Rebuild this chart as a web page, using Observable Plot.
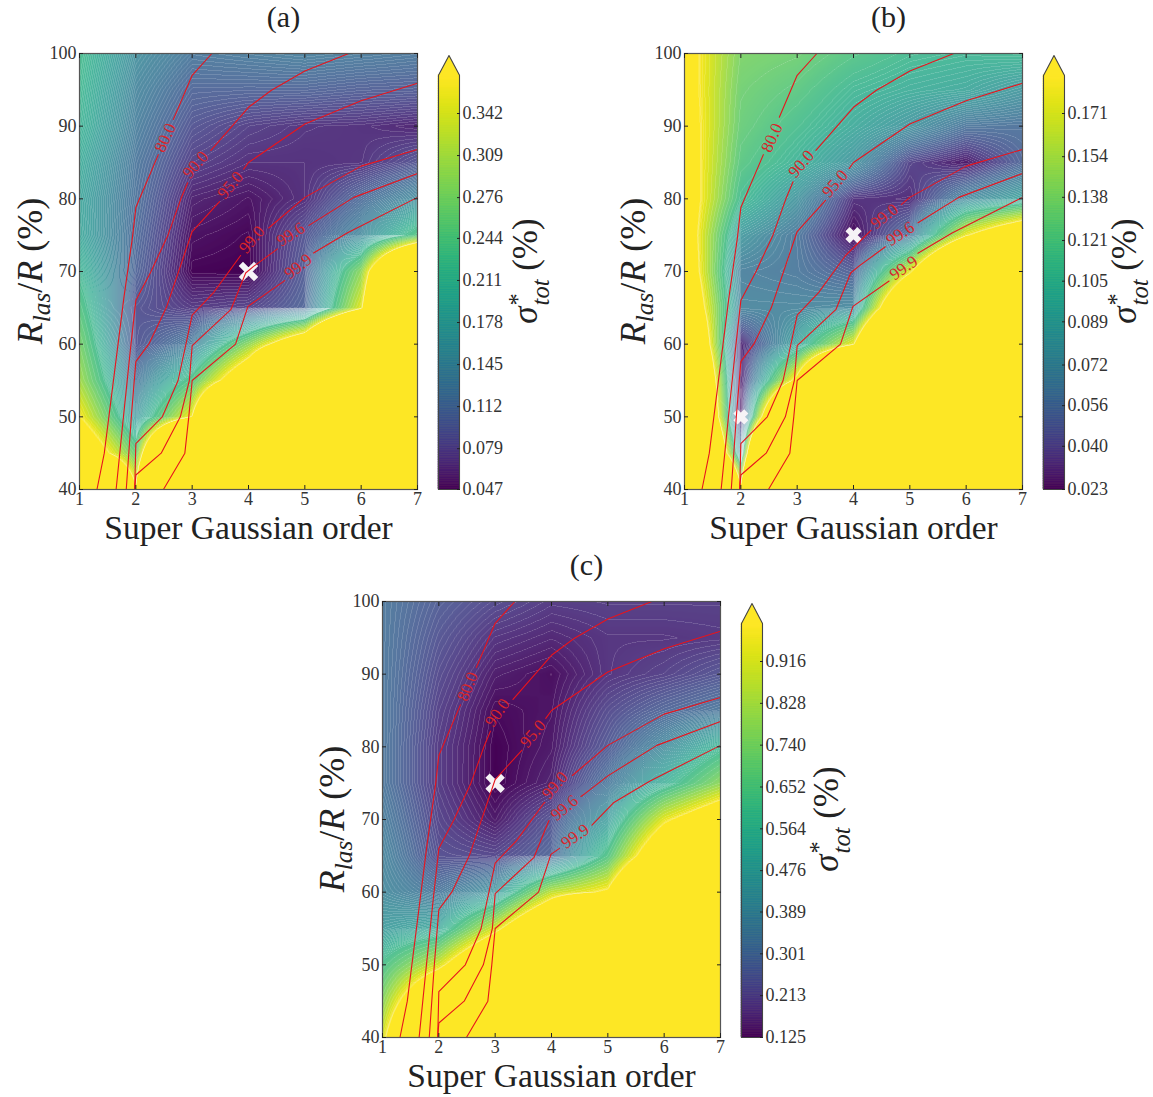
<!DOCTYPE html>
<html><head><meta charset="utf-8">
<script src="https://cdn.jsdelivr.net/npm/d3@7"></script>
<script src="https://cdn.jsdelivr.net/npm/@observablehq/plot@0.6"></script>
<style>
html,body{margin:0;padding:0;background:#fff}
#page{position:relative;width:1153px;height:1097px;overflow:hidden;font-family:"Liberation Serif",serif;color:#222}
#page>svg{position:absolute}
.rot{position:absolute;transform:translate(-50%,-50%) rotate(-90deg);white-space:nowrap;line-height:1}
.rot i{font-style:italic}
.rot sub{font-size:.7em;vertical-align:-.3em;line-height:0}
.ss{display:inline-flex;flex-direction:column;vertical-align:middle;font-size:.7em;line-height:.95;margin-left:1px;text-align:left}
</style></head><body><div id="page"></div>
<script>
const xs = [1,2,3,4,5,6,7];
const ys = [100,95,90,85,80,75,70,65,60,55,50,45,40];

const sigmaA = [
 [.230,.156,.125,.130,.135,.130,.125],
 [.222,.143,.106,.105,.105,.100,.098],
 [.215,.133,.091,.077,.070,.068,.062],
 [.200,.123,.077,.067,.067,.069,.091],
 [.190,.118,.061,.054,.067,.112,.156],
 [.194,.112,.053,.049,.091,.149,.248],
 [.218,.106,.048,.047,.098,.295,.834],
 [.248,.091,.073,.079,.106,.355,1.08],
 [.280,.091,.133,.295,.489,1.08,2.06],
 [.310,.123,.248,.489,1.08,1.54,2.06],
 [.372,.167,.372,1.08,1.54,2.06,2.06],
 [.489,.262,1.165,2.06,2.06,2.06,2.06],
 [1.08,.382,2.06,2.06,2.06,2.06,2.06]
];
const sigmaB = [
 [.200,.140,.135,.122,.112,.108,.110],
 [.202,.135,.125,.108,.100,.095,.082],
 [.206,.131,.115,.097,.080,.060,.058],
 [.209,.124,.104,.080,.039,.027,.053],
 [.214,.112,.080,.034,.032,.074,.093],
 [.215,.083,.061,.023,.061,.181,.245],
 [.226,.066,.062,.049,.178,.380,.540],
 [.248,.070,.070,.074,.308,.540,1.03],
 [.310,.030,.093,.181,.540,1.03,1.65],
 [.380,.027,.200,.540,1.03,1.65,1.65],
 [.430,.023,.457,1.03,1.65,1.65,1.65],
 [.520,.074,1.03,1.65,1.65,1.65,1.65],
 [1.03,.200,1.65,1.65,1.65,1.65,1.65]
];
const sigmaC = [
 [.330,.263,.223,.195,.200,.200,.200],
 [.330,.242,.184,.166,.184,.184,.189],
 [.330,.223,.154,.138,.184,.206,.242],
 [.330,.206,.133,.144,.223,.284,.330],
 [.330,.195,.126,.150,.255,.400,.580],
 [.330,.195,.125,.162,.330,.550,.790],
 [.355,.211,.150,.242,.470,.952,1.22],
 [.381,.230,.217,.284,.650,1.31,1.84],
 [.399,.330,.446,.883,1.02,2.03,4.13],
 [.466,.518,.925,1.47,2.89,4.13,5.50],
 [.628,.925,1.47,2.89,4.13,5.50,5.50],
 [.777,1.47,2.89,5.50,5.50,5.50,5.50],
 [.925,2.03,5.50,5.50,5.50,5.50,5.50]
];

const contour80 = [[1.31,40],[1.44,45],[1.79,66.5],[1.94,74.7],[2,78.8],[3,97],[3.35,100]];
const contour90 = [[1.65,40],[1.78,50],[1.9,59],[2,66],[2.27,70],[2.57,75],[2.8,80],[3,83.7],[4,92.6],[4.4,94.9],[5,97.6],[5.78,100]];
const contour95 = [[1.83,40],[1.92,50],[2,57.6],[2.23,60],[2.54,65],[3,75.5],[3.53,80],[4,85],[5,90.3],[6,93.5],[7,95.9]];
const contour990 = [[1.98,40],[2,46.3],[2.47,50],[2.75,55],[3,64],[3.38,67.1],[3.86,72.2],[4.3,75.6],[5,80.2],[6,84.5],[7,86.8]];
const contour996 = [[1.98,40],[2,42],[2.45,45],[2.79,50],[2.95,55],[3,59.8],[3.69,64.8],[3.95,69.8],[4.09,70.7],[4.6,73.6],[5,76],[5.87,80.2],[7,83.5]];
const contour999 = [[2.49,40],[2.87,45],[2.94,50],[3,55],[3.77,60],[3.99,65.2],[4.69,69],[5.1,72.3],[5.75,75.3],[7,80.2]];
const contourLevels = ["80.0","90.0","95.0","99.0","99.6","99.9"];
const contourLines = [contour80,contour90,contour95,contour990,contour996,contour999];

const labelsA = [[2.52,88.4,-66],[3.06,84.7,-49],[3.68,81.9,-50],[4.06,74.4,-50],[4.75,75.1,-33],[4.88,70.7,-38]];
const labelsB = [[2.55,88.4,-66],[3.07,84.8,-50],[3.67,82.1,-50],[4.55,77.6,-38],[4.83,75.2,-33],[4.89,70.5,-35]];
const labelsC = [[2.51,88.3,-68],[3.04,84.7,-55],[3.67,81.8,-50],[4.06,74.7,-50],[4.23,71.6,-40],[4.42,67.7,-35]];

const ticksA = [.047,.079,.112,.145,.178,.211,.244,.276,.309,.342];
const ticksB = [.023,.040,.056,.072,.089,.105,.121,.138,.154,.171];
const ticksC = [.125,.213,.301,.389,.476,.564,.652,.740,.828,.916];

const panels = [
 {title:"(a)",z:sigmaA,labels:labelsA,ticks:ticksA,vmax:.372,seams:130,best:[[4,70,7]],left:0,top:0,lx:30,sx:529,ty:271},
 {title:"(b)",z:sigmaB,labels:labelsB,ticks:ticksB,vmax:.186,seams:85,best:[[4,75,5.5],[2,50,5]],left:605,top:0,lx:633,sx:1128,ty:271},
 {title:"(c)",z:sigmaC,labels:labelsC,ticks:ticksC,vmax:.996,seams:130,best:[[3,75,7]],left:303,top:548,lx:332,sx:830,ty:819}
];

const page = document.getElementById("page");
const FONT = "Liberation Serif";
const INK = "#333";

const washed = t=>d3.interpolateRgb(d3.interpolateViridis(t),"white")(.2*Math.pow(Math.sin(Math.PI*Math.min(t,1)),.8));

function gap(line,lab){
  const sx=56.3, sy=7.27, R=20;
  const inside=p=>Math.hypot((p[0]-lab[0])*sx,(p[1]-lab[1])*sy)<R;
  const out=[];
  for(let i=0;i<line.length-1;i++){
    const a=line[i], b=line[i+1];
    if(!inside(a)) out.push(a);
    let prev=inside(a);
    for(let k=1;k<=60;k++){
      const t=k/60, p=[a[0]+(b[0]-a[0])*t,a[1]+(b[1]-a[1])*t], c=inside(p);
      if(c!==prev){ out.push(p); if(c) out.push(null); prev=c; }
    }
  }
  const last=line[line.length-1];
  if(!inside(last)) out.push(last);
  return out;
}

for(const P of panels){
  const field=(x,y)=>{
    const fx=Math.min(Math.max(x-1,0),5.9999), fy=Math.min(Math.max((100-y)/5,0),11.9999);
    const j=Math.floor(fx), i=Math.floor(fy), u=fx-j, w=fy-i;
    const z=P.z;
    return (1-w)*((1-u)*z[i][j]+u*z[i][j+1])+w*((1-u)*z[i+1][j]+u*z[i+1][j+1]);
  };
  const vmin = P.ticks[0], span=P.vmax-vmin;
  const colour = {type:"pow",exponent:.6,interpolate:washed,domain:[vmin,P.vmax],clamp:true};
  const barColour = {type:"pow",exponent:.6,scheme:"viridis",domain:[vmin,P.vmax],clamp:true};
  const levelsLow = d3.range(0,Math.round(P.seams*.55)).map(i=>vmin+span*i/P.seams);
  const levelsHigh = [.56,.6,.64,.68,.72,.76,.8,.84,.88,.92,.95,.97,.98,.985,.99,.995].map(f=>vmin+span*f);
  const lineRows = contourLines.flatMap((line,i)=>{
    const cut = gap(line,P.labels[i]);
    return cut.map(p=>p?{x:p[0],y:p[1],level:contourLevels[i]}:{x:NaN,y:NaN,level:contourLevels[i]});
  });
  const labelRows = P.labels.map((l,i)=>({x:l[0],y:l[1],rotate:l[2],text:contourLevels[i]}));
  const bestRows = P.best.map(b=>({x:b[0],y:b[1],r:b[2]}));
  const seam = (thresholds,o)=>Plot.contour({x1:1,x2:7,y1:40,y2:100,value:field,pixelSize:1,smooth:false,thresholds,stroke:"white",strokeWidth:.6,strokeOpacity:o,fill:"none"});

  const W=430,H=550,ml=79,mt=53,mb=61;
  const plot = Plot.plot({
    width:W,height:H,marginLeft:ml,marginRight:W-ml-338,marginTop:mt,marginBottom:mb,
    style:{fontFamily:FONT,background:"transparent",overflow:"visible"},
    x:{domain:[1,7]},y:{domain:[40,100]},color:colour,r:{type:"identity"},
    marks:[
      Plot.raster({x1:1,x2:7,y1:40,y2:100,fill:field,pixelSize:1}),
      seam(levelsLow,.26),
      seam(levelsHigh,.22),
      Plot.dot(bestRows,{x:"x",y:"y",r:"r",symbol:"times",stroke:"#f6f3f6",strokeWidth:6}),
      Plot.line(lineRows,{x:"x",y:"y",z:"level",stroke:"#e8141c",strokeWidth:1.1,curve:"linear"}),
      Plot.text(labelRows,{x:"x",y:"y",text:"text",rotate:"rotate",fill:"#d9252a",fontSize:17,fontFamily:FONT}),
      Plot.frame({stroke:"#555",strokeWidth:1.2}),
      Plot.axisX({ticks:xs,tickSize:-4,tickPadding:7,fontSize:18,fill:INK,stroke:"#222",label:null,tickFormat:d3.format("d"),fontFamily:FONT}),
      Plot.axisX({anchor:"top",ticks:xs,tickSize:-4,tickFormat:()=>"",label:null,stroke:"#222"}),
      Plot.axisY({ticks:[40,50,60,70,80,90,100],tickSize:-4,tickPadding:7,fontSize:18,fill:INK,stroke:"#222",label:null,fontFamily:FONT}),
      Plot.axisY({anchor:"right",ticks:[40,50,60,70,80,90,100],tickSize:-4,tickFormat:()=>"",label:null,stroke:"#222"}),
      Plot.text(["Super Gaussian order"],{frameAnchor:"bottom",dy:49,fontSize:33.5,fill:"#222",fontFamily:FONT}),
      Plot.text([P.title],{frameAnchor:"top",dy:-36,dx:35,fontSize:30,fill:"#222",fontFamily:FONT,lineAnchor:"middle"})
    ]
  });
  plot.style.left=P.left+"px"; plot.style.top=P.top+"px";
  page.appendChild(plot);

  const k=(P.ticks[9]-P.ticks[0])/376;
  const vtip=vmin+k*434;
  const steps=d3.range(0,240).map(i=>({y1:vmin+span*i/240,y2:vmin+span*(i+1)/240}));
  const outline=[[0,vmin],[1,vmin],[1,P.vmax],[.5,vtip],[0,P.vmax],[0,vmin]].map(d=>({x:d[0],y:d[1]}));
  const bar=Plot.plot({
    width:100,height:H,marginLeft:10,marginRight:69,marginTop:55,marginBottom:mb,
    style:{fontFamily:FONT,background:"transparent",overflow:"visible"},
    x:{domain:[0,1],axis:null},y:{domain:[vmin,vtip],axis:null},color:barColour,
    marks:[
      Plot.line(outline,{x:"x",y:"y",fill:"#fde725",stroke:"none"}),
      Plot.rect(steps,{x1:0,x2:1,y1:"y1",y2:"y2",fill:"y2",stroke:"y2",strokeWidth:.6}),
      Plot.line(outline,{x:"x",y:"y",stroke:"#444",strokeWidth:1.1}),
      Plot.axisY({anchor:"right",ticks:P.ticks,tickSize:-3,tickPadding:6,fontSize:18,fill:INK,stroke:"#222",label:null,tickFormat:d3.format(".3f"),fontFamily:FONT})
    ]
  });
  bar.style.left=(P.left+428)+"px"; bar.style.top=P.top+"px";
  page.appendChild(bar);

  const yl=document.createElement("div");
  yl.className="rot"; yl.style.cssText=`left:${P.lx}px;top:${P.ty}px;font-size:36px`;
  yl.innerHTML=`<i>R</i><sub><i>las</i></sub>/<i>R</i> (%)`;
  page.appendChild(yl);
  const sl=document.createElement("div");
  sl.className="rot"; sl.style.cssText=`left:${P.sx}px;top:${P.ty}px;font-size:35px`;
  sl.innerHTML=`<i>σ</i><span class="ss"><span>*</span><i>tot</i></span> (%)`;
  page.appendChild(sl);
}
</script></body></html>
